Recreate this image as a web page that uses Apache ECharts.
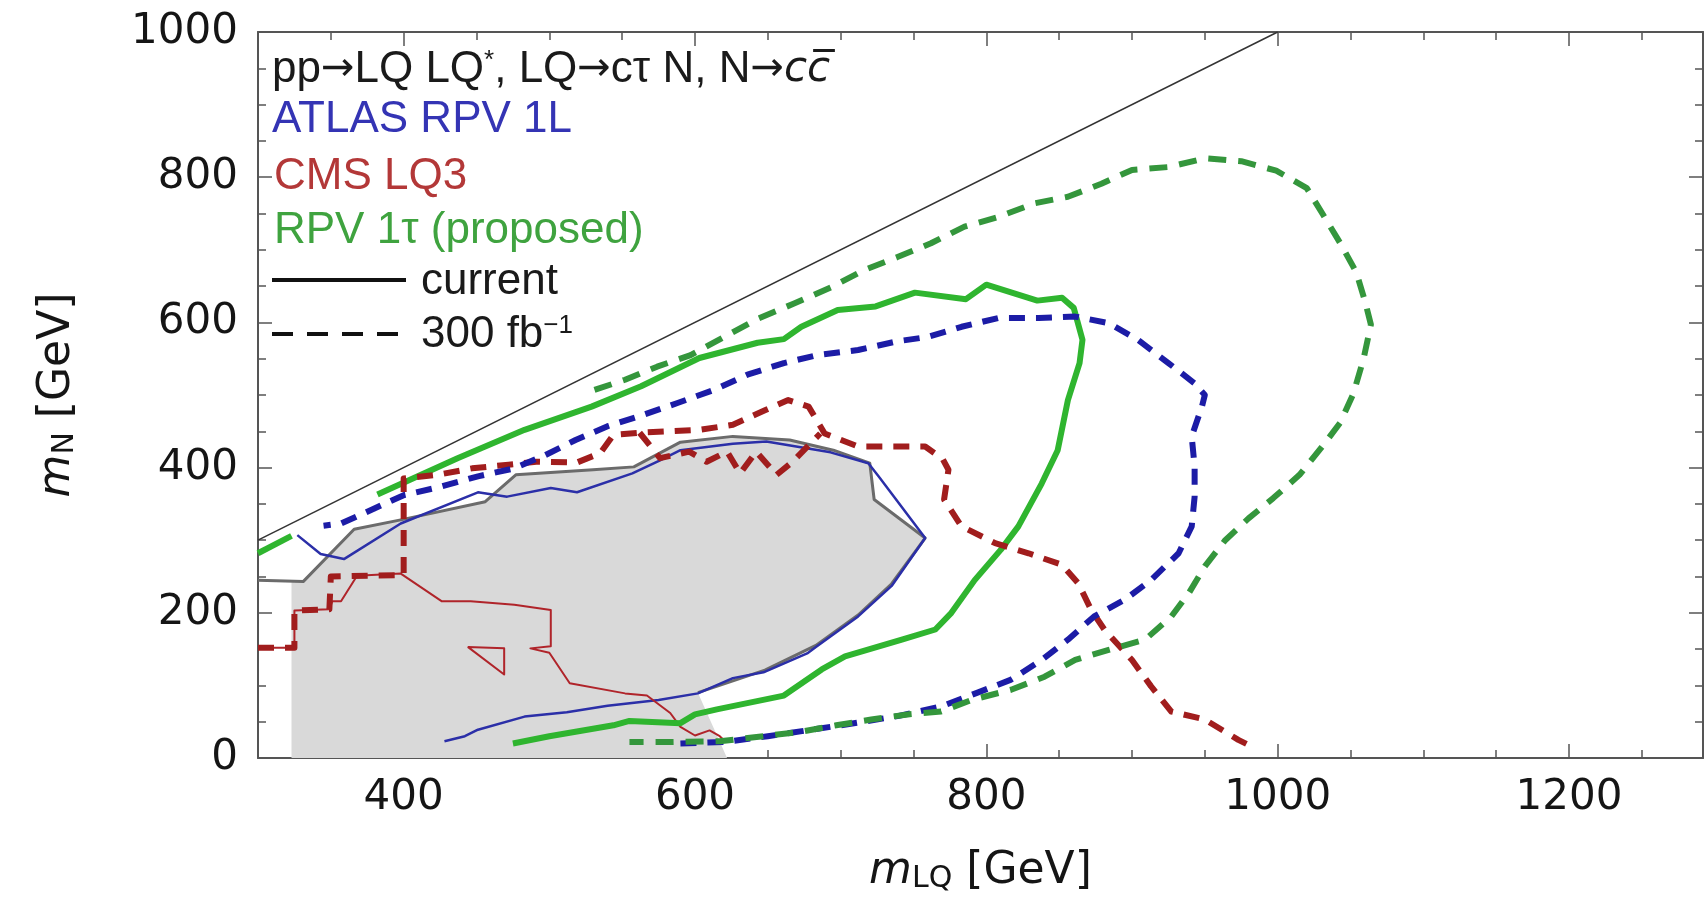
<!DOCTYPE html>
<html>
<head>
<meta charset="utf-8">
<script src="https://cdn.jsdelivr.net/npm/echarts@6/dist/echarts.min.js"></script>
<style>
  html, body { margin: 0; padding: 0; background: #fff; }
  #chart { width: 1708px; height: 908px; }
</style>
</head>
<body>
<div id="chart"></div>
<script>
// axis ticks
const xMajorTicks = [400, 600, 800, 1000, 1200];
const yMajorTicks = [0, 200, 400, 600, 800, 1000];

// kinematic limit m_N = m_LQ
const diagonal = [[300, 300], [1000, 1000]];

// current exclusion (shaded)
const shadedRegion = [[323, 0], [323, 243], [331, 243], [366, 315], [398, 328], [456, 353], [477, 390], [530, 397], [558, 401], [590, 435], [626, 443], [665, 438], [695, 424], [720, 406], [723, 356], [758, 303], [735, 240], [712, 197], [683, 155], [648, 121], [602, 90], [622, 0]];
const grayEdge = [[300, 245], [331, 243], [366, 315], [398, 328], [456, 353], [477, 390], [530, 397], [558, 401], [590, 435], [626, 443], [665, 438], [695, 424], [720, 406], [723, 356], [758, 303], [735, 240], [712, 197], [683, 155], [648, 121], [602, 90]];

// ATLAS RPV 1L
const atlasNow = [[327, 307], [343, 281], [359, 274], [398, 323], [451, 366], [471, 360], [501, 372], [519, 366], [557, 392], [576, 410], [590, 424], [626, 433], [649, 436], [693, 421], [719, 406], [726, 388], [758, 303], [735, 237], [712, 195], [683, 153], [677, 144], [647, 118], [626, 110], [602, 89], [575, 80], [540, 72], [512, 63], [483, 57], [451, 39], [442, 30], [428, 23]];
const atlas300 = [[590, 20], [620, 22], [650, 30], [700, 45], [740, 58], [769, 71], [794, 90], [817, 108], [838, 135], [856, 163], [874, 195], [895, 218], [913, 245], [932, 282], [941, 319], [943, 360], [943, 401], [941, 443], [948, 484], [950, 500], [943, 516], [925, 544], [904, 576], [884, 599], [861, 608], [836, 606], [808, 606], [783, 594], [760, 580], [739, 574], [712, 562], [684, 555], [661, 544], [636, 528], [613, 507], [588, 489], [565, 473], [540, 457], [518, 438], [497, 417], [476, 399], [451, 388], [426, 374], [400, 362], [378, 342], [357, 323], [345, 320]];

// CMS LQ3
const cmsNow = [[300, 152], [325, 152], [325, 203], [349, 205], [351, 216], [357, 216], [368, 251], [398, 254], [426, 216], [446, 216], [476, 211], [501, 204], [501, 154], [487, 151], [500, 145], [514, 103], [552, 89], [567, 86], [583, 62], [590, 43], [600, 31], [610, 38], [617, 30], [620, 24]];
const cmsIsland = [[444, 153], [469, 151], [469, 115], [444, 153]];
const cms300 = [[300, 152], [325, 152], [325, 203], [349, 205], [350, 250], [400, 252], [400, 385], [423, 390], [447, 399], [472, 404], [491, 408], [519, 407], [535, 420], [544, 445], [562, 448], [603, 452], [626, 459], [648, 479], [664, 493], [678, 484], [689, 447], [712, 429], [737, 429], [758, 429], [770, 412], [774, 397], [771, 356], [783, 319], [806, 296], [829, 282], [852, 266], [863, 241], [872, 204], [881, 177], [900, 135], [913, 99], [927, 64], [950, 53], [973, 25], [980, 18]];
const cms300Zig = [[562, 448], [576, 413], [596, 422], [608, 408], [622, 422], [631, 392], [642, 422], [656, 390], [667, 408], [686, 447]];

// RPV 1tau (proposed)
const rpvNowEdge = [[300, 282], [323, 306]];
const rpvNow = [[382, 363], [437, 413], [483, 452], [529, 484], [563, 512], [603, 551], [643, 572], [661, 577], [673, 594], [698, 617], [724, 622], [751, 641], [786, 632], [800, 652], [835, 630], [852, 634], [860, 620], [866, 576], [864, 544], [856, 493], [849, 424], [838, 378], [822, 319], [810, 287], [792, 245], [776, 200], [765, 177], [742, 163], [703, 140], [687, 122], [661, 86], [615, 67], [600, 60], [590, 48], [555, 51], [544, 45], [500, 30], [475, 20]];
const rpv300 = [[531, 507], [552, 521], [574, 539], [597, 555], [620, 580], [643, 605], [668, 626], [694, 649], [716, 672], [739, 690], [762, 709], [785, 732], [808, 745], [833, 764], [856, 773], [879, 791], [900, 810], [925, 814], [950, 826], [975, 822], [999, 809], [1020, 785], [1031, 749], [1043, 709], [1054, 669], [1060, 629], [1064, 597], [1059, 550], [1052, 502], [1043, 462], [1031, 430], [1015, 390], [997, 358], [980, 330], [964, 300], [950, 264], [939, 227], [927, 195], [909, 163], [884, 149], [861, 135], [840, 112], [817, 94], [790, 80], [769, 64], [746, 60], [721, 53], [697, 45], [672, 36], [647, 30], [617, 23], [585, 22], [555, 22]];

const chart = echarts.init(document.getElementById('chart'));

const tickFont = { fontFamily: 'DejaVu Sans', fontSize: 42, color: '#151515' };
const frameLine = { show: true, lineStyle: { color: '#555', width: 2 } };

function curve(data, color, width, dash, z) {
  return {
    type: 'line',
    data: data,
    symbol: 'none',
    silent: true,
    z: z,
    lineStyle: { color: color, width: width, type: dash || 'solid', cap: 'butt', join: 'round' }
  };
}

function xFrame(position, withLabels) {
  // minor ticks every 50 along the frame
  return {
    type: 'value', min: 300, max: 1292, interval: 50, position: position,
    axisLine: frameLine,
    axisTick: { inside: true, length: 8, lineStyle: { color: '#555', width: 1.5 } },
    axisLabel: withLabels ? Object.assign({
      margin: 19,
      formatter: v => (xMajorTicks.indexOf(v) >= 0 ? String(v) : '')
    }, tickFont) : { show: false },
    splitLine: { show: false }
  };
}

function xMajor(position) {
  return {
    type: 'value', min: 300, max: 1292, position: position,
    axisLine: { show: false },
    axisTick: { inside: true, length: 14, customValues: xMajorTicks, lineStyle: { color: '#555', width: 1.5 } },
    axisLabel: { show: false },
    splitLine: { show: false }
  };
}

const titleRich = {
  i: { fontFamily: 'DejaVu Sans', fontStyle: 'italic', fontSize: 44, color: '#151515' },
  sub: { fontFamily: 'DejaVu Sans', fontSize: 30, lineHeight: 20, verticalAlign: 'bottom', color: '#151515' }
};

const xAxis0 = xFrame('bottom', true);
xAxis0.name = '{i|m}{sub|LQ} [GeV]';
xAxis0.nameLocation = 'middle';
xAxis0.nameGap = 92;
xAxis0.nameTextStyle = { fontFamily: 'DejaVu Sans', fontSize: 44, color: '#151515', rich: titleRich };

const yAxisLeft = {
  type: 'value', min: 0, max: 1000, interval: 200, position: 'left',
  axisLine: frameLine,
  axisTick: { inside: true, length: 14, lineStyle: { color: '#555', width: 1.5 } },
  minorTick: { show: true, splitNumber: 4, length: 8, lineStyle: { color: '#555', width: 1.5 } },
  axisLabel: Object.assign({
    margin: 20,
    formatter: v => (yMajorTicks.indexOf(v) >= 0 ? String(v) : '')
  }, tickFont),
  splitLine: { show: false },
  name: '{i|m}{sub|N} [GeV]',
  nameLocation: 'middle',
  nameRotate: 90,
  nameGap: 178,
  nameTextStyle: { fontFamily: 'DejaVu Sans', fontSize: 44, color: '#151515', rich: titleRich }
};
const yAxisRight = {
  type: 'value', min: 0, max: 1000, interval: 200, position: 'right',
  axisLine: frameLine,
  axisTick: { inside: true, length: 14, lineStyle: { color: '#555', width: 1.5 } },
  minorTick: { show: true, splitNumber: 4, length: 8, lineStyle: { color: '#555', width: 1.5 } },
  axisLabel: { show: false },
  splitLine: { show: false }
};

// text block in the upper left corner
const noteFont = 'Liberation Sans';
const noteSize = 44;
function note(text, x, y, color, rich) {
  return {
    type: 'text', silent: true, z: 100,
    style: {
      text: text, x: x, y: y,
      fontFamily: noteFont, fontSize: noteSize, fill: color,
      align: 'left', textAlign: 'left', verticalAlign: 'middle', textVerticalAlign: 'middle',
      rich: rich
    }
  };
}
const supStyle = { fontFamily: noteFont, fontSize: 26, lineHeight: 16, verticalAlign: 'top', fill: '#1a1a1a' };
const arrowStyle = { fontFamily: 'DejaVu Sans', fontSize: 40, fill: '#1a1a1a' };

const option = {
  animation: false,
  backgroundColor: '#fff',
  grid: { left: 258, right: 5, top: 32, bottom: 150 },
  xAxis: [xAxis0, xMajor('bottom'), xFrame('top', false), xMajor('top')],
  yAxis: [yAxisLeft, yAxisRight],
  graphic: [
    note('pp{ar|→}LQ LQ{sup|*}, LQ{ar|→}cτ N, N{ar|→}{i|c}{i|c\u0305}', 272, 70, '#1a1a1a', {
      sup: supStyle,
      ar: arrowStyle,
      i: { fontFamily: 'DejaVu Sans', fontStyle: 'italic', fontSize: 42, fill: '#1a1a1a' }
    }),
    note('ATLAS RPV 1L', 272, 120, '#3434b4'),
    note('CMS LQ3', 274, 177, '#b33838'),
    note('RPV 1τ (proposed)', 274, 231, '#3fa33f'),
    note('current', 421, 282, '#1a1a1a'),
    note('300 fb{sup|−1}', 421, 335, '#1a1a1a', { sup: supStyle }),
    {
      type: 'line', silent: true, z: 100,
      shape: { x1: 272, y1: 280, x2: 406, y2: 280 },
      style: { stroke: '#111', lineWidth: 4 }
    },
    {
      type: 'line', silent: true, z: 100,
      shape: { x1: 272, y1: 334, x2: 406, y2: 334 },
      style: { stroke: '#111', lineWidth: 4, lineDash: [21, 14] }
    }
  ],
  series: [
    {
      type: 'custom',
      data: shadedRegion,
      silent: true,
      z: 1,
      renderItem: (params, api) => {
        if (params.dataIndex !== 0) return null;
        return {
          type: 'polygon',
          shape: { points: shadedRegion.map(p => api.coord(p)) },
          style: { fill: '#d9d9d9' }
        };
      }
    },
    curve(diagonal, '#333', 1.5, null, 2),
    curve(grayEdge, '#6b6b6b', 3, null, 3),
    curve(atlasNow, '#2b2fa8', 2.5, null, 4),
    curve(cmsNow, '#b0242a', 2, null, 4),
    curve(cmsIsland, '#b0242a', 2, null, 4),
    curve(rpvNowEdge, '#2fb52f', 6, null, 5),
    curve(rpvNow, '#2fb52f', 6, null, 5),
    curve(cms300, '#a11d1d', 6, [16, 11], 6),
    curve(cms300Zig, '#a11d1d', 6, [16, 11], 6),
    curve(atlas300, '#1c1ca6', 6, [16, 11], 7),
    curve(rpv300, '#34963c', 6, [18, 12], 7)
  ]
};

chart.setOption(option);
</script>
</body>
</html>
